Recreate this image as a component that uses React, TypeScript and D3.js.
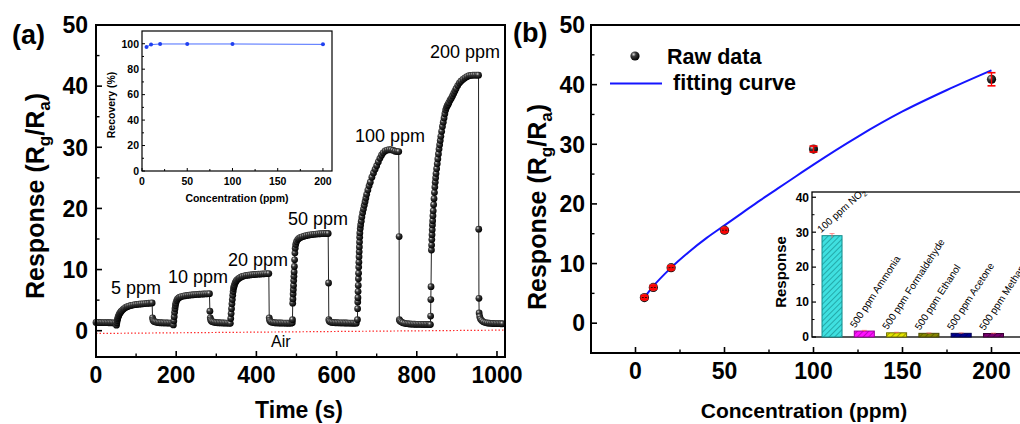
import React from "react";
import * as d3 from "d3";

type Pt = [number, number];

// ---------------- Panel (a): response transient, Time (s) vs Rg/Ra ----------------
const baseline0: Pt[] = [[0,1.35],[4,1.35],[8,1.34],[12,1.33],[16,1.33],[20,1.32],[24,1.31],[28,1.31],[32,1.3],[36,1.3],[40,1.29],[44,1.28],[48,1.27]];
const on5: Pt[] = [[51,0.9],[52,1.3],[53,1.65],[54,1.95],[55,2.2],[56.5,2.45],[58,2.7],[60,2.9],[62,3.1],[64,3.25],[67,3.45],[70,3.62],[74,3.8],[78,3.93],[82,4.03],[87,4.12],[92,4.2],[97,4.26],[102,4.3],[107,4.34],[112,4.37],[117,4.4],[122,4.43],[127,4.46],[132,4.49],[137,4.52],[140,4.55]];
const off5: Pt[] = [[141,2.1],[142,1.75],[144,1.55],[147,1.45],[151,1.38],[155,1.33],[159,1.3],[163,1.3],[167,1.28],[171,1.28],[175,1.27],[179,1.26],[183,1.25],[187,1.25],[191,1.24]];
const on10: Pt[] = [[193,0.95],[194,1.6],[195,2.3],[196,3.0],[197,3.6],[198,4.1],[199,4.5],[201,4.9],[203,5.15],[206,5.35],[209,5.48],[213,5.58],[218,5.66],[223,5.72],[228,5.77],[233,5.81],[238,5.85],[243,5.88],[248,5.91],[253,5.94],[258,5.96],[263,5.98],[268,6.0],[273,6.02],[278,6.04],[283,6.06]];
const off10: Pt[] = [[284,3.2],[285,2.1],[286,1.75],[288,1.55],[291,1.45],[295,1.38],[299,1.33],[303,1.3],[307,1.3],[311,1.28],[315,1.27],[319,1.26],[323,1.25],[327,1.25],[331,1.24]];
const on20: Pt[] = [[335,1.2],[336,2.0],[337,2.8],[338,3.6],[339,4.4],[340,5.1],[341,5.8],[342,6.4],[343,6.9],[344,7.2],[345,7.45],[347,7.8],[349,8.05],[351,8.25],[354,8.45],[357,8.6],[361,8.75],[365,8.87],[370,8.97],[375,9.04],[380,9.09],[385,9.13],[390,9.16],[395,9.19],[400,9.22],[405,9.25],[410,9.27],[415,9.29],[420,9.31],[425,9.33],[431,9.35]];
const off20: Pt[] = [[432,2.1],[433,1.7],[435,1.5],[438,1.4],[442,1.33],[446,1.3],[450,1.28],[454,1.27],[458,1.26],[462,1.26],[466,1.25],[470,1.25],[474,1.24],[478,1.24],[482,1.24],[486,1.23]];
const on50: Pt[] = [[489.5,1.3],[490,1.8],[490.6,4.5],[491.1,5.2],[491.6,6.0],[492.1,6.7],[492.6,7.4],[493.1,8.2],[493.6,8.9],[494.1,9.6],[494.7,10.5],[495.3,11.6],[496,12.7],[496.8,13.5],[498,14.1],[500,14.55],[503,14.9],[506,15.1],[510,15.25],[514,15.35],[519,15.45],[524,15.55],[529,15.62],[534,15.68],[539,15.73],[544,15.77],[549,15.8],[554,15.83],[559,15.86],[564,15.88],[569,15.9],[574,15.9],[579,15.9]];
const off50: Pt[] = [[580,7.8],[580.6,1.8],[582,1.55],[585,1.42],[589,1.35],[593,1.32],[597,1.3],[601,1.3],[605,1.29],[609,1.28],[613,1.28],[617,1.27],[621,1.26],[625,1.26],[629,1.25],[633,1.25],[637,1.24],[641,1.24],[645,1.24],[649,1.23]];
const on100: Pt[] = [[652,1.8],[652.4,3.6],[652.8,4.7],[653.2,5.4],[653.6,6.4],[654,7.4],[654.4,8.5],[654.8,9.4],[655.2,10.4],[655.6,11.2],[656,12.1],[656.4,12.9],[656.8,13.7],[657.2,14.5],[657.6,15.3],[658,16.0],[659,16.7],[660,17.3],[661.5,17.9],[663,18.6],[665,19.3],[667,19.9],[669,20.5],[671,21.1],[673,21.7],[675,22.3],[678,23.0],[681,23.7],[684,24.3],[688,25.1],[692,25.8],[696,26.4],[700,27.0],[704,27.6],[708,28.2],[712,28.7],[716,29.1],[721,29.4],[726,29.55],[731,29.6],[736,29.6],[741,29.5],[746,29.35],[751,29.3],[755,29.3]];
const off100: Pt[] = [[756,15.4],[756.5,1.8],[758,1.6],[761,1.45],[765,1.3],[770,1.2],[775,1.15],[779,1.12],[783,1.1],[787,1.08],[791,1.07],[795,1.06],[799,1.05],[803,1.05],[807,1.04],[811,1.04],[815,1.03],[819,1.03],[823,1.03],[827,1.02],[831,1.02]];
const on200: Pt[] = [[834,1.0],[834.5,2.4],[835,5.1],[835.5,7.2],[836.5,13.2],[837,14.0],[837.5,14.9],[838,15.7],[838.5,16.5],[839,17.3],[839.6,18.0],[840.3,18.8],[841,19.6],[842,20.6],[843,21.6],[844,22.6],[845,23.5],[846,24.3],[847,25.0],[848,25.7],[849.5,26.5],[851,27.3],[852.5,28.1],[854,28.9],[855.5,29.7],[857,30.4],[858.5,31.1],[860,31.8],[862,32.6],[864,33.4],[866,34.1],[868,34.8],[870,35.5],[872,36.1],[874,36.5],[876,36.8],[878,37.0],[880,37.3],[883,37.7],[886,38.0],[889,38.4],[892,38.8],[895,39.2],[898,39.6],[902,40.1],[906,40.5],[910,40.8],[915,41.1],[920,41.35],[925,41.55],[930,41.7],[935,41.75],[940,41.8],[945,41.8],[950,41.8],[954,41.8]];
const off200: Pt[] = [[954.5,16.6],[955,5.3],[955.5,2.9],[957,2.3],[959,1.9],[962,1.65],[966,1.45],[971,1.33],[976,1.26],[981,1.22],[986,1.2],[990,1.18],[994,1.17],[998,1.16],[1002,1.15],[1006,1.15],[1010,1.14],[1014,1.14]];
const responseSeries: Pt[] = [...baseline0, ...on5, ...off5, ...on10, ...off10, ...on20, ...off20, ...on50, ...off50, ...on100, ...off100, ...on200, ...off200];
const stepLabels = ["5 ppm", "10 ppm", "20 ppm", "50 ppm", "100 ppm", "200 ppm"];
const airLine: Pt[] = [[0, -0.45], [1020, 0.1]];
const timeTicks = [0, 200, 400, 600, 800, 1000];
const respTicksA = [0, 10, 20, 30, 40, 50];

// inset (a): recovery
const recoveryConc = [5, 10, 20, 50, 100, 200];
const recoveryPct = [97.5, 99.3, 99.8, 99.8, 99.8, 99.5];
const recTicksY = [0, 20, 40, 60, 80, 100];
const recTicksX = [0, 50, 100, 150, 200];

// ---------------- Panel (b): response vs concentration ----------------
const rawConc = [5, 10, 20, 50, 100, 200];
const rawResp = [4.3, 6.0, 9.3, 15.6, 29.2, 40.9];
const rawErr = [0.3, 0.3, 0.3, 0.3, 0.5, 1.1];
const fitConc = [5, 10, 20, 30, 40, 50, 60, 70, 80, 90, 100, 125, 150, 175, 200];
const fitResp = [4.3, 6.2, 9.3, 11.95, 14.3, 16.4, 18.5, 20.6, 22.6, 24.6, 26.6, 31.3, 35.5, 39.1, 42.4];
const concTicks = [0, 50, 100, 150, 200];
const respTicksB = [0, 10, 20, 30, 40, 50];

// inset (b): selectivity
const gases = ["100 ppm NO2", "500 ppm Ammonia", "500 ppm Formaldehyde", "500 ppm Ethanol", "500 ppm Acetone", "500 ppm Methanol"];
const gasResp = [29.0, 1.7, 1.2, 1.05, 1.05, 1.0];
const gasErr = [0.6, 0.2, 0.15, 0.1, 0.1, 0.1];
const gasFill = ["#3fe0e0", "#ff10ff", "#e4e400", "#878700", "#000090", "#7a0070"];
const gasLine = ["#148c8c", "#9a009a", "#707000", "#4a4a00", "#000050", "#3c0036"];
const selTicks = [0, 10, 20, 30, 40];

const FONT = "'Liberation Sans', Arial, Helvetica, sans-serif";

export default function App() {
  // scales
  const xA = d3.scaleLinear().domain([0, 1020]).range([96, 505]);
  const yA = d3.scaleLinear().domain([-4.3, 50]).range([357, 25]);
  const xI = d3.scaleLinear().domain([0, 210]).range([142, 332]);
  const yI = d3.scaleLinear().domain([0, 110]).range([171, 31]);
  const xB = d3.scaleLinear().domain([-25, 225]).range([591, 1036]);
  const yB = d3.scaleLinear().domain([-5, 50]).range([353, 25]);
  const xS = d3.scaleBand<string>().domain(gases).range([812, 1013.5]).paddingInner(0.38).paddingOuter(0.31);
  const yS = d3.scaleLinear().domain([0, 41.5]).range([337, 192]);

  const lineA = d3.line<Pt>().x((d) => xA(d[0])).y((d) => yA(d[1]));
  const lineI = d3.line<number>().x((_, i) => xI(recoveryConc[i])).y((d) => yI(d));
  const lineFit = d3.line<number>().x((_, i) => xB(fitConc[i])).y((d) => yB(d)).curve(d3.curveMonotoneX);

  const minorA_x = d3.range(100, 1020, 200);
  const minorA_y = d3.range(-5, 50, 10).filter((v) => v > -4.3);
  const minorB_x = d3.range(-25, 226, 50);
  const minorB_y = d3.range(5, 50, 10);

  const labelPos: [number, number][] = [[111, 294], [168, 283], [228, 266], [288, 224.5], [355, 141.5], [430, 58]];
  const bw = xS.bandwidth();

  return (
    <svg width={1020} height={424} style={{ position: "absolute", left: 0, top: 0, background: "#fff" }} fontFamily={FONT}>
      <defs>
        <radialGradient id="sph" cx="35%" cy="32%" r="70%">
          <stop offset="0%" stopColor="#d8d8d8" />
          <stop offset="35%" stopColor="#3a3a3a" />
          <stop offset="100%" stopColor="#000" />
        </radialGradient>
        {gases.map((g, i) => (
          <pattern key={g} id={`hatch${i}`} patternUnits="userSpaceOnUse" width={4} height={4} patternTransform="rotate(45)">
            <rect width={4} height={4} fill={gasFill[i]} />
            <line x1={0} y1={0} x2={0} y2={4} stroke={gasLine[i]} strokeWidth={1.3} />
          </pattern>
        ))}
      </defs>
      <rect x={0} y={0} width={1020} height={424} fill="#fff" />

      {/* ================= Panel (a) ================= */}
      <line x1={xA(airLine[0][0])} y1={yA(airLine[0][1])} x2={xA(airLine[1][0])} y2={yA(airLine[1][1])} stroke="#ff3030" strokeWidth={1.2} strokeDasharray="1.5 2" />
      <path d={lineA(responseSeries) || ""} fill="none" stroke="#222" strokeWidth={1} />
      {responseSeries.map((d, i) => (
        <circle key={i} cx={xA(d[0])} cy={yA(d[1])} r={3.4} fill="url(#sph)" />
      ))}
      <rect x={96} y={25} width={409} height={332} fill="none" stroke="#000" strokeWidth={2} />
      {timeTicks.map((t) => (
        <g key={t}>
          <line x1={xA(t)} x2={xA(t)} y1={357} y2={351} stroke="#000" strokeWidth={1.6} />
          <text x={xA(t)} y={383} textAnchor="middle" fontSize={23} fontWeight="bold">{t}</text>
        </g>
      ))}
      {minorA_x.map((t) => (
        <line key={t} x1={xA(t)} x2={xA(t)} y1={357} y2={353.5} stroke="#000" strokeWidth={1.4} />
      ))}
      {respTicksA.map((v) => (
        <g key={v}>
          <line x1={96} x2={102} y1={yA(v)} y2={yA(v)} stroke="#000" strokeWidth={1.6} />
          <text x={88} y={yA(v)} dy="0.36em" textAnchor="end" fontSize={23} fontWeight="bold">{v}</text>
        </g>
      ))}
      {minorA_y.map((v) => (
        <line key={v} x1={96} x2={99.5} y1={yA(v)} y2={yA(v)} stroke="#000" strokeWidth={1.4} />
      ))}
      {stepLabels.map((s, i) => (
        <text key={s} x={labelPos[i][0]} y={labelPos[i][1]} fontSize={18}>{s}</text>
      ))}
      <text x={271} y={347} fontSize={16}>Air</text>
      <text x={299} y={418} textAnchor="middle" fontSize={23} fontWeight="bold">Time (s)</text>
      <text transform="translate(44,196) rotate(-90)" textAnchor="middle" fontSize={25} fontWeight="bold">
        Response (R<tspan dy={6} fontSize={17}>g</tspan><tspan dy={-6}>/R</tspan><tspan dy={6} fontSize={17}>a</tspan><tspan dy={-6}>)</tspan>
      </text>
      <text x={12} y={44} fontSize={27} fontWeight="bold">(a)</text>

      {/* inset (a) */}
      <rect x={142} y={31} width={190} height={140} fill="#fff" stroke="#000" strokeWidth={1.2} />
      <path d={lineI(recoveryPct) || ""} fill="none" stroke="#4a6cff" strokeWidth={1} />
      {recoveryPct.map((v, i) => (
        <circle key={i} cx={xI(recoveryConc[i])} cy={yI(v)} r={2} fill="#2040f0" />
      ))}
      {recTicksY.map((v) => (
        <g key={v}>
          <line x1={142} x2={145} y1={yI(v)} y2={yI(v)} stroke="#000" strokeWidth={1} />
          <text x={139} y={yI(v)} dy="0.36em" textAnchor="end" fontSize={10.5} fontWeight="bold">{v}</text>
        </g>
      ))}
      {d3.range(10, 110, 20).map((v) => (
        <line key={v} x1={142} x2={144} y1={yI(v)} y2={yI(v)} stroke="#000" strokeWidth={1} />
      ))}
      {recTicksX.map((c) => (
        <g key={c}>
          <line x1={xI(c)} x2={xI(c)} y1={171} y2={168} stroke="#000" strokeWidth={1} />
          <text x={xI(c)} y={185} textAnchor="middle" fontSize={10.5} fontWeight="bold">{c}</text>
        </g>
      ))}
      {d3.range(25, 210, 50).map((c) => (
        <line key={c} x1={xI(c)} x2={xI(c)} y1={171} y2={169} stroke="#000" strokeWidth={1} />
      ))}
      <text x={237} y={202} textAnchor="middle" fontSize={10.5} fontWeight="bold">Concentration (ppm)</text>
      <text transform="translate(115,105) rotate(-90)" textAnchor="middle" fontSize={10.5} fontWeight="bold">Recovery (%)</text>

      {/* ================= Panel (b) ================= */}
      <path d={lineFit(fitResp) || ""} fill="none" stroke="#1515ff" strokeWidth={2} />
      {rawResp.map((v, i) => {
        const cx = xB(rawConc[i]);
        const cy = yB(v);
        const small = rawErr[i] < 0.4;
        return (
          <g key={i}>
            <circle cx={cx} cy={cy} r={4.6} fill="url(#sph)" />
            {small && <circle cx={cx} cy={cy} r={3.8} fill="#ff1a1a" opacity={0.9} />}
            {small && <line x1={cx - 2.5} x2={cx + 2.5} y1={cy} y2={cy} stroke="#300" strokeWidth={1} />}
            <line x1={cx} x2={cx} y1={yB(v - rawErr[i])} y2={yB(v + rawErr[i])} stroke="#ff0000" strokeWidth={1.3} />
            <line x1={cx - 4} x2={cx + 4} y1={yB(v - rawErr[i])} y2={yB(v - rawErr[i])} stroke="#ff0000" strokeWidth={1.6} />
            <line x1={cx - 4} x2={cx + 4} y1={yB(v + rawErr[i])} y2={yB(v + rawErr[i])} stroke="#ff0000" strokeWidth={1.6} />
          </g>
        );
      })}
      <rect x={591} y={25} width={460} height={328} fill="none" stroke="#000" strokeWidth={2} />
      {concTicks.map((c) => (
        <g key={c}>
          <line x1={xB(c)} x2={xB(c)} y1={353} y2={347} stroke="#000" strokeWidth={1.6} />
          <text x={xB(c)} y={379} textAnchor="middle" fontSize={23} fontWeight="bold">{c}</text>
        </g>
      ))}
      {minorB_x.map((c) => (
        <line key={c} x1={xB(c)} x2={xB(c)} y1={353} y2={349.5} stroke="#000" strokeWidth={1.4} />
      ))}
      {respTicksB.map((v) => (
        <g key={v}>
          <line x1={591} x2={597} y1={yB(v)} y2={yB(v)} stroke="#000" strokeWidth={1.6} />
          <text x={585} y={yB(v)} dy="0.36em" textAnchor="end" fontSize={23} fontWeight="bold">{v}</text>
        </g>
      ))}
      {minorB_y.map((v) => (
        <line key={v} x1={591} x2={594.5} y1={yB(v)} y2={yB(v)} stroke="#000" strokeWidth={1.4} />
      ))}
      <text x={804} y={418} textAnchor="middle" fontSize={21} fontWeight="bold">Concentration (ppm)</text>
      <text transform="translate(546,207) rotate(-90)" textAnchor="middle" fontSize={25} fontWeight="bold">
        Response (R<tspan dy={6} fontSize={17}>g</tspan><tspan dy={-6}>/R</tspan><tspan dy={6} fontSize={17}>a</tspan><tspan dy={-6}>)</tspan>
      </text>
      <text x={513} y={42} fontSize={27} fontWeight="bold">(b)</text>
      <circle cx={635} cy={56} r={4.6} fill="url(#sph)" />
      <text x={667} y={63.5} fontSize={21.5} fontWeight="bold">Raw data</text>
      <line x1={610} x2={662} y1={83.5} y2={83.5} stroke="#1515ff" strokeWidth={2} />
      <text x={673} y={90} fontSize={21.5} fontWeight="bold">fitting curve</text>

      {/* inset (b): selectivity */}
      <rect x={812} y={192} width={240} height={145} fill="#fff" stroke="#000" strokeWidth={1.3} />
      {gases.map((g, i) => {
        const x0 = xS(g) as number;
        return (
          <g key={g}>
            <rect x={x0} y={yS(gasResp[i])} width={bw} height={337 - yS(gasResp[i])} fill={`url(#hatch${i})`} stroke={gasLine[i]} strokeWidth={1} />
            <line x1={x0 + bw / 2} x2={x0 + bw / 2} y1={yS(gasResp[i] - gasErr[i])} y2={yS(gasResp[i] + gasErr[i])} stroke="#ff6060" strokeWidth={1} opacity={0.7} />
            <line x1={x0 + bw / 2 - 2.5} x2={x0 + bw / 2 + 2.5} y1={yS(gasResp[i] + gasErr[i])} y2={yS(gasResp[i] + gasErr[i])} stroke="#ff6060" strokeWidth={1} opacity={0.7} />
          </g>
        );
      })}
      {gases.map((g, i) => {
        const cx = (xS(g) as number) + bw / 2;
        const top = yS(gasResp[i]);
        const ang = i === 0 ? -42 : -57;
        const tx = i === 0 ? cx - 11 : cx - 9;
        const ty = top - 2.5;
        const isNO2 = g.endsWith("NO2");
        return (
          <text key={g} transform={`translate(${tx},${ty}) rotate(${ang})`} fontSize={10}>
            {isNO2 ? (
              <>100 ppm NO<tspan dy={2.5} fontSize={7}>2</tspan></>
            ) : g}
          </text>
        );
      })}
      {selTicks.map((v) => (
        <g key={v}>
          <line x1={812} x2={816} y1={yS(v)} y2={yS(v)} stroke="#000" strokeWidth={1.2} />
          <text x={809} y={yS(v)} dy="0.36em" textAnchor="end" fontSize={12} fontWeight="bold">{v}</text>
        </g>
      ))}
      {d3.range(5, 41, 10).map((v) => (
        <line key={v} x1={812} x2={814.5} y1={yS(v)} y2={yS(v)} stroke="#000" strokeWidth={1} />
      ))}
      <text transform="translate(786,272) rotate(-90)" textAnchor="middle" fontSize={15} fontWeight="bold">Response</text>
    </svg>
  );
}
